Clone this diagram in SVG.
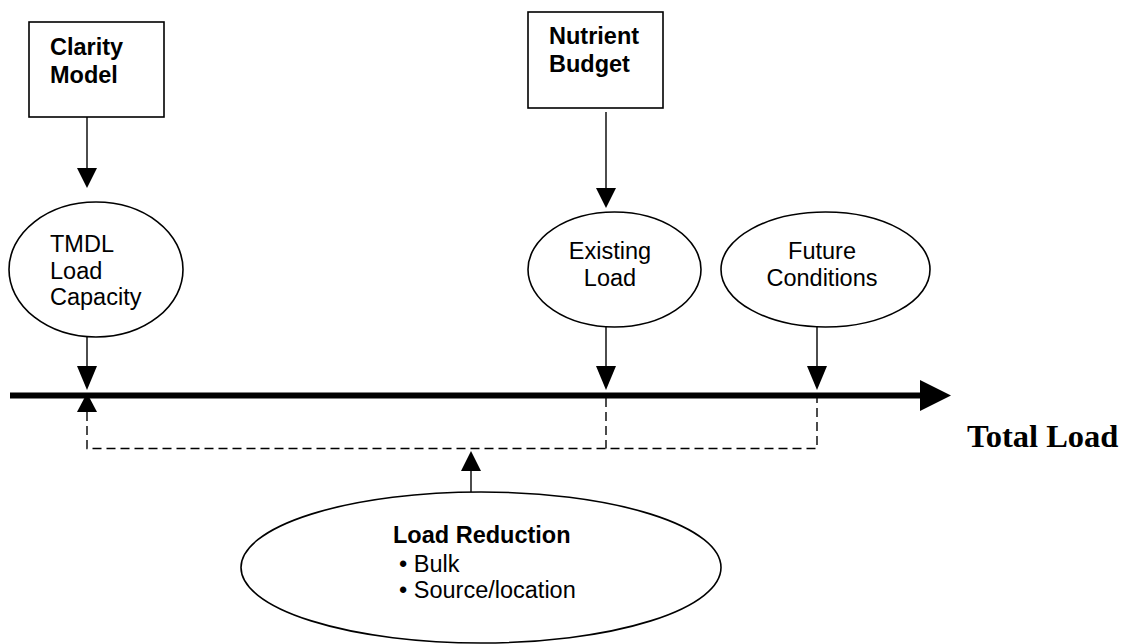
<svg xmlns="http://www.w3.org/2000/svg" width="1130" height="644" viewBox="0 0 1130 644">
<style>
.box{fill:#fff;stroke:#000;stroke-width:1.6}
.ell{fill:#fff;stroke:#000;stroke-width:1.6}
.t{font-family:"Liberation Sans",Arial,sans-serif;font-size:23.5px;fill:#000}
.b{font-weight:bold}
.ln{stroke:#000;stroke-width:1.4;fill:none}
.dash{stroke:#000;stroke-width:1.4;fill:none;stroke-dasharray:9 5}
.head{fill:#000}
</style>
<rect width="1130" height="644" fill="#fff"/>
<g id="connectors">
<path class="dash" d="M87,412 V448.5 H817 V398"/>
<path class="dash" d="M606,398 V448.5"/>
<line x1="10" y1="395.5" x2="922" y2="395.5" stroke="#000" stroke-width="6"/>
<polygon class="head" points="920,380 920,411 951,395.5"/>
<line class="ln" x1="87" y1="117" x2="87" y2="170"/>
<polygon class="head" points="77,168 97,168 87,188"/>
<line class="ln" x1="606" y1="112" x2="606" y2="190"/>
<polygon class="head" points="596,188 616,188 606,208"/>
<line class="ln" x1="87" y1="337" x2="87" y2="368"/>
<polygon class="head" points="77,366 97,366 87,390"/>
<line class="ln" x1="606" y1="327" x2="606" y2="368"/>
<polygon class="head" points="596,366 616,366 606,390"/>
<line class="ln" x1="817" y1="327" x2="817" y2="368"/>
<polygon class="head" points="807,366 827,366 817,390"/>
<polygon class="head" points="77,412 97,412 87,393"/>
<line class="ln" x1="471" y1="492" x2="471" y2="469"/>
<polygon class="head" points="461,471 481,471 471,451"/>
</g>
<g id="clarity-model">
<rect class="box" x="29" y="22" width="135" height="95"/>
<text class="t b" x="50" y="55">Clarity</text>
<text class="t b" x="50" y="83">Model</text>
</g>
<g id="nutrient-budget">
<rect class="box" x="528" y="12" width="135" height="96"/>
<text class="t b" x="549" y="44">Nutrient</text>
<text class="t b" x="549" y="72">Budget</text>
</g>
<g id="tmdl">
<ellipse class="ell" cx="96" cy="269.5" rx="87" ry="67.5"/>
<text class="t" x="50" y="252">TMDL</text>
<text class="t" x="50" y="279">Load</text>
<text class="t" x="50" y="305">Capacity</text>
</g>
<g id="existing-load">
<ellipse class="ell" cx="614.5" cy="269.5" rx="86.5" ry="57.5"/>
<text class="t" x="610" y="259" text-anchor="middle">Existing</text>
<text class="t" x="610" y="286" text-anchor="middle">Load</text>
</g>
<g id="future-conditions">
<ellipse class="ell" cx="825.5" cy="269.5" rx="104.5" ry="57.5"/>
<text class="t" x="822" y="259" text-anchor="middle">Future</text>
<text class="t" x="822" y="286" text-anchor="middle">Conditions</text>
</g>
<g id="load-reduction">
<ellipse class="ell" cx="481" cy="567.5" rx="240" ry="75.5"/>
<text class="t b" x="393" y="543">Load Reduction</text>
<text class="t" x="399" y="572">• Bulk</text>
<text class="t" x="399" y="598">• Source/location</text>
</g>
<g id="total-load">
<text x="967" y="447" font-family="'Liberation Serif','Times New Roman',serif" font-weight="bold" font-size="32.5px" fill="#000">Total Load</text>
</g>
</svg>
